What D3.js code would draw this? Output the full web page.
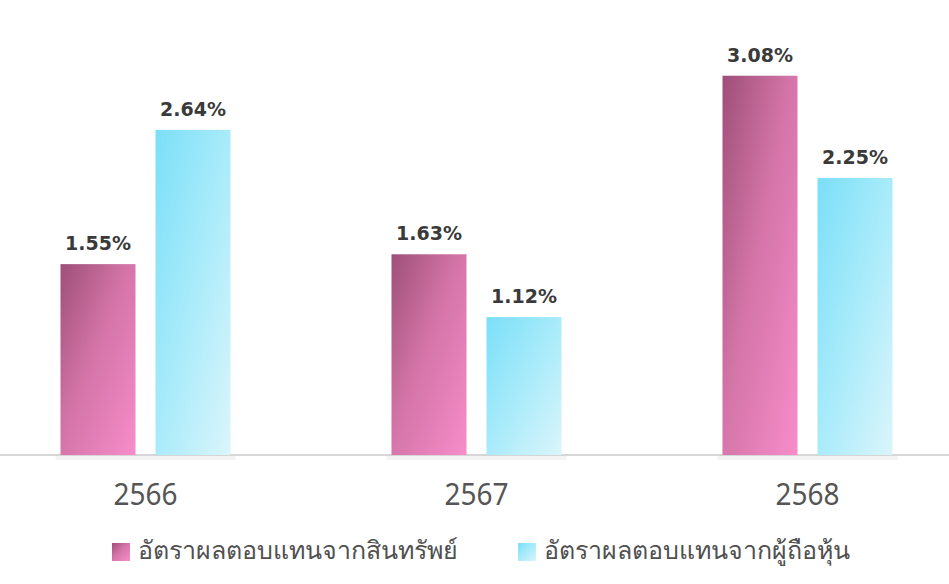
<!DOCTYPE html>
<html>
<head>
<meta charset="utf-8">
<script src="https://cdn.jsdelivr.net/npm/d3@7"></script>
<style>
  body { margin: 0; background: #fff; }
  svg { display: block; }
</style>
</head>
<body>
<div id="chart"></div>
<script>
// data
var years = ["2566", "2567", "2568"];
var seriesNames = ["อัตราผลตอบแทนจากสินทรัพย์", "อัตราผลตอบแทนจากผู้ถือหุ้น"];
var roa = [1.55, 1.63, 3.08];
var roe = [2.64, 1.12, 2.25];

var width = 949, height = 584;
var svg = d3.select("#chart").append("svg")
    .attr("width", width)
    .attr("height", height);

var defs = svg.append("defs");
var pink = defs.append("linearGradient").attr("id", "gPink")
    .attr("x1", 0).attr("y1", 0).attr("x2", 1).attr("y2", 1);
pink.append("stop").attr("offset", "0%").attr("stop-color", "#9e4f78");
pink.append("stop").attr("offset", "45%").attr("stop-color", "#d374a7");
pink.append("stop").attr("offset", "100%").attr("stop-color", "#f78dca");
var cyan = defs.append("linearGradient").attr("id", "gCyan")
    .attr("x1", 0).attr("y1", 0).attr("x2", 1).attr("y2", 1);
cyan.append("stop").attr("offset", "0%").attr("stop-color", "#7adff8");
cyan.append("stop").attr("offset", "50%").attr("stop-color", "#a9ebfa");
cyan.append("stop").attr("offset", "100%").attr("stop-color", "#dbf5fb");
var fills = ["url(#gPink)", "url(#gCyan)"];

var x0 = d3.scalePoint().domain(years).range([145.5, 807.5]);
var x1 = d3.scaleBand().domain([0, 1]).range([-85, 85]).paddingInner(20 / 95);
var y = d3.scaleLinear().domain([0, 3.5]).range([455, 24]);

var rows = years.map(function(yr, i) {
    return { year: yr, vals: [roa[i], roe[i]] };
});

// faint shadow under each group
svg.append("g").selectAll("rect")
    .data(rows).enter().append("rect")
    .attr("x", d => x0(d.year) - 90)
    .attr("y", y(0))
    .attr("width", 180)
    .attr("height", 5)
    .attr("fill", "#f4f4f4");

// baseline
svg.append("line")
    .attr("x1", 0).attr("x2", width)
    .attr("y1", y(0)).attr("y2", y(0))
    .attr("stroke", "#d6d6d6")
    .attr("stroke-width", 2);

var group = svg.append("g").selectAll("g")
    .data(rows).enter().append("g")
    .attr("transform", d => "translate(" + x0(d.year) + ",0)");

var bar = group.selectAll("g")
    .data(d => d.vals.map((v, k) => ({ k: k, v: v })))
    .enter().append("g");

bar.append("rect")
    .attr("x", d => x1(d.k))
    .attr("y", d => y(d.v))
    .attr("width", x1.bandwidth())
    .attr("height", d => y(0) - y(d.v))
    .attr("fill", d => fills[d.k]);

bar.append("text")
    .attr("x", d => x1(d.k) + x1.bandwidth() / 2)
    .attr("y", d => y(d.v) - 14)
    .attr("text-anchor", "middle")
    .attr("font-family", "DejaVu Sans, Verdana, sans-serif")
    .attr("font-weight", "bold")
    .attr("font-size", 19)
    .attr("fill", "#3a3a3a")
    .text(d => d.v.toFixed(2) + "%");

// x axis labels
svg.append("g").selectAll("text")
    .data(years).enter().append("text")
    .attr("x", d => x0(d))
    .attr("y", 505)
    .attr("text-anchor", "middle")
    .attr("font-family", "Noto Sans, sans-serif")
    .attr("font-size", 30)
    .attr("textLength", 64)
    .attr("lengthAdjust", "spacingAndGlyphs")
    .attr("fill", "#555")
    .text(d => d);

// legend
var legendX = [112, 518];
var legend = svg.append("g").selectAll("g")
    .data(seriesNames).enter().append("g")
    .attr("transform", (d, i) => "translate(" + legendX[i] + ",543)");
legend.append("rect")
    .attr("width", 18).attr("height", 18)
    .attr("fill", (d, i) => fills[i]);
legend.append("text")
    .attr("x", 26)
    .attr("y", 16)
    .attr("font-family", "Noto Sans, sans-serif")
    .attr("font-size", 25)
    .attr("fill", "#505050")
    .text(d => d);
</script>
</body>
</html>
